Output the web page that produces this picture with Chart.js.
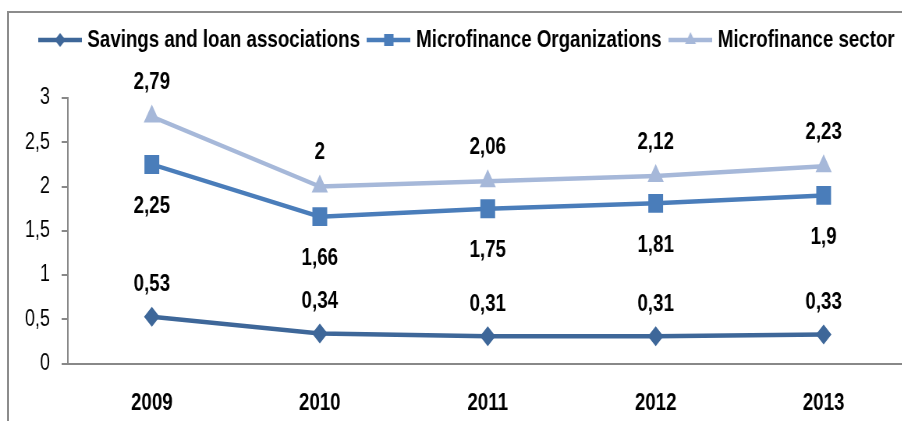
<!DOCTYPE html>
<html>
<head>
<meta charset="utf-8">
<script src="https://cdn.jsdelivr.net/npm/chart.js@4.4.0/dist/chart.umd.min.js"></script>
<style>
  html, body { margin: 0; padding: 0; background: #fff; overflow: hidden; width: 902px; height: 421px; }
  #frame { position: absolute; left: 7px; top: 11px; width: 1000px; height: 500px;
           border-left: 2px solid #8c8c8c; border-top: 2px solid #8c8c8c; }
  /* the picture is squeezed sideways, so draw wide and scale down */
  #wrap { position: absolute; left: 0; top: 0; transform: scaleX(0.78); transform-origin: 0 0; }
  #chart { display: block; width: 1177px; height: 421px; }
</style>
</head>
<body>
<div id="frame"></div>
<div id="wrap"><canvas id="chart" width="1177" height="421"></canvas></div>
<script>
const years = ["2009", "2010", "2011", "2012", "2013"];
const savingsLoan = [0.53, 0.34, 0.31, 0.31, 0.33];
const mfOrganizations = [2.25, 1.66, 1.75, 1.81, 1.9];
const mfSector = [2.79, 2, 2.06, 2.12, 2.23];

const FONT = "'Liberation Sans', Arial, sans-serif";
const C_SAVINGS = "#3e6799";
const C_ORG = "#4a7dba";
const C_SECTOR = "#a6b8d9";

function fmt(v) {
  return String(v).replace(".", ",");
}

// legend entry: line with the marker in the middle
function legendIcon(color, style, r) {
  const c = document.createElement("canvas");
  c.width = 56;
  c.height = 24;
  const g = c.getContext("2d");
  g.strokeStyle = color;
  g.fillStyle = color;
  g.lineWidth = 4.5;
  g.beginPath();
  g.moveTo(0, 12);
  g.lineTo(56, 12);
  g.stroke();
  g.beginPath();
  if (style === "rectRot") {
    g.moveTo(28, 12 - r);
    g.lineTo(28 + r, 12);
    g.lineTo(28, 12 + r);
    g.lineTo(28 - r, 12);
  } else if (style === "rect") {
    g.rect(28 - r, 12 - r, 2 * r, 2 * r);
  } else {
    g.moveTo(28, 12 - r);
    g.lineTo(28 + r * 0.866, 12 + r * 0.5);
    g.lineTo(28 - r * 0.866, 12 + r * 0.5);
  }
  g.closePath();
  g.fill();
  return c;
}

const valueLabels = {
  id: "valueLabels",
  afterDatasetsDraw(chart) {
    const ctx = chart.ctx;
    ctx.save();
    ctx.font = "bold 24px " + FONT;
    ctx.fillStyle = "#000";
    ctx.textAlign = "center";
    ctx.textBaseline = "middle";
    chart.data.datasets.forEach((ds, i) => {
      chart.getDatasetMeta(i).data.forEach((pt, j) => {
        ctx.fillText(fmt(ds.data[j]), pt.x, pt.y + ds.labelOffset);
      });
    });
    ctx.restore();
  },
};

// extra room under the legend, and nudge it a bit to the right
const legendSpacer = {
  id: "legendSpacer",
  beforeInit(chart) {
    const fit = chart.legend.fit;
    chart.legend.fit = function () {
      fit.bind(chart.legend)();
      this.height += 36;
    };
  },
  afterLayout(chart) {
    chart.legend.left += 12;
    chart.legend.right += 12;
  },
};

const icons = [
  legendIcon(C_SAVINGS, "rectRot", 7),
  legendIcon(C_ORG, "rect", 6),
  legendIcon(C_SECTOR, "triangle", 8),
];

new Chart(document.getElementById("chart"), {
  type: "line",
  data: {
    labels: years,
    datasets: [
      {
        label: "Savings and loan associations",
        data: savingsLoan,
        borderColor: C_SAVINGS,
        backgroundColor: C_SAVINGS,
        pointStyle: "rectRot",
        pointRadius: 10,
        labelOffset: -32,
      },
      {
        label: "Microfinance Organizations",
        data: mfOrganizations,
        borderColor: C_ORG,
        backgroundColor: C_ORG,
        pointStyle: "rect",
        pointRadius: 13.4,
        labelOffset: 42,
      },
      {
        label: "Microfinance sector",
        data: mfSector,
        borderColor: C_SECTOR,
        backgroundColor: C_SECTOR,
        pointStyle: "triangle",
        pointRadius: 12,
        labelOffset: -34,
      },
    ],
  },
  options: {
    responsive: false,
    animation: false,
    events: [],
    elements: {
      line: { borderWidth: 4.5, tension: 0 },
      point: { borderWidth: 0 },
    },
    layout: { padding: { top: 14, left: 0, right: 0, bottom: 0 } },
    plugins: {
      tooltip: { enabled: false },
      legend: {
        position: "top",
        labels: {
          usePointStyle: true,
          pointStyleWidth: 46,
          padding: 14,
          color: "#000",
          font: { family: FONT, size: 24, weight: "bold" },
          generateLabels: (chart) =>
            chart.data.datasets.map((ds, i) => ({
              text: ds.label,
              pointStyle: icons[i],
              fontColor: "#000",
              lineWidth: 0,
              hidden: false,
              datasetIndex: i,
            })),
        },
      },
    },
    scales: {
      x: {
        offset: true,
        grid: { display: false, drawTicks: false },
        border: { display: true, color: "#888", width: 2 },
        ticks: {
          padding: 25,
          color: "#000",
          font: { family: FONT, size: 24, weight: "bold" },
        },
        afterFit: (scale) => {
          scale.height = 57.4;
        },
      },
      y: {
        min: 0,
        max: 3,
        grid: { drawOnChartArea: false, drawTicks: true, tickLength: 8, color: "#888", lineWidth: 2 },
        border: { color: "#888", width: 2 },
        ticks: {
          stepSize: 0.5,
          padding: 15,
          color: "#000",
          font: { family: FONT, size: 23 },
          callback: (v) => fmt(v),
        },
        afterFit: (scale) => {
          scale.width = 87;
        },
      },
    },
  },
  plugins: [valueLabels, legendSpacer],
});
</script>
</body>
</html>
